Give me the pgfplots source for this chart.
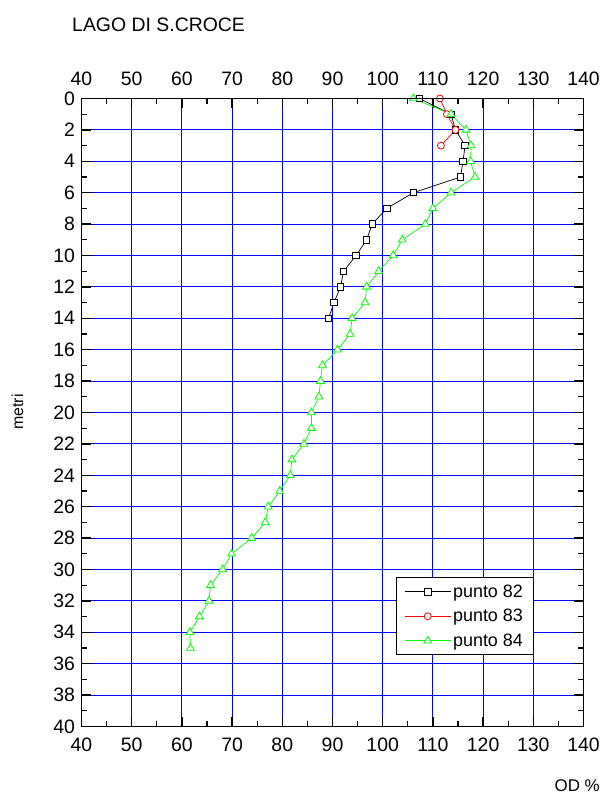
\documentclass[border=0pt]{standalone}
\usepackage{pgfplots}
\pgfplotsset{compat=1.18}
\usepackage{fontspec}
\setmainfont{Liberation Sans}
\begin{document}
\begin{tikzpicture}[x=1bp,y=1bp]
\path[use as bounding box] (-81.5,-69.5) rectangle (529.5,726.5);
\pgfplotsset{
  mycommon/.style={
    at={(0,0)}, anchor=south west,
    width=502bp, height=628bp, scale only axis,
    xmin=40, xmax=140, ymin=0, ymax=40, y dir=reverse,
    xtick={40,50,...,140}, ytick={0,2,...,40},
    /pgf/number format/assume math mode=true,
    tick label style={font=\fontsize{19.5}{19.5}\selectfont},
  }
}
\begin{axis}[mycommon,
  axis line style={black, line width=1.6bp},
  tick style={black, line width=1.3bp},
  tick align=inside,
  major tick length=10bp, minor tick length=5.5bp,
  minor x tick num=1, minor y tick num=1,
  grid=major, major grid style={blue, line width=0.9bp},
  xticklabel shift=7.5bp,
  yticklabel shift=3bp,
  legend cell align=left,
  legend style={at={(0.9,0.2376)}, anchor=north east, draw=black, fill=white, line width=0.8bp,
    font=\fontsize{18}{18}\selectfont, row sep=6.5bp, inner xsep=8bp, inner ysep=5bp,
    nodes={inner sep=2bp}},
  legend image code/.code={\draw[mark repeat=2,mark phase=2,#1] plot coordinates {(0bp,0bp) (23bp,0bp) (46bp,0bp)};},
]
\addplot[black, line width=0.7bp, mark=square*, mark size=3.2bp, mark options={fill=white, line width=0.8bp}] coordinates {
(107.3,0) (113.6,1) (114.5,2) (116.4,3) (116.0,4) (115.5,5) (106.1,6) (100.8,7) (97.9,8) (96.8,9) (94.7,10) (92.2,11) (91.6,12) (90.3,13) (89.2,14)
};
\addlegendentry{punto 82}
\addplot[red, line width=0.7bp, mark=*, mark size=3.5bp, mark options={fill=white, line width=0.8bp}] coordinates {
(111.4,0) (112.8,1) (114.5,2) (111.6,3)
};
\addlegendentry{punto 83}
\addplot[green, line width=0.7bp, mark=triangle*, mark size=4.5bp, mark options={fill=white, line width=0.8bp}] coordinates {
(106.1,0) (113.6,1) (116.6,2) (117.6,3) (117.5,4) (118.4,5) (113.6,6) (110.0,7) (108.5,8) (103.9,9) (102.1,10) (99.2,11) (96.8,12) (96.5,13) (93.9,14) (93.5,15) (91.0,16) (88.0,17) (87.6,18) (87.3,19) (85.8,20) (85.8,21) (84.3,22) (81.9,23) (81.6,24) (79.5,25) (77.2,26) (76.6,27) (73.9,28) (69.9,29) (68.1,30) (65.7,31) (65.4,32) (63.5,33) (61.6,34) (61.7,35)
};
\addlegendentry{punto 84}
\end{axis}
\begin{axis}[mycommon,
  axis x line*=top, axis y line=none,
  xticklabel pos=upper, major tick length=0pt,
  xticklabel shift=9.5bp,
]
\addplot[draw=none] coordinates {(40,0)};
\end{axis}
\node[anchor=west, inner sep=0pt, font=\fontsize{19.5}{19.5}\selectfont] at (-9.5,701.5) {LAGO DI S.CROCE};
\node[anchor=east, inner sep=0pt, font=\fontsize{17}{17}\selectfont] at (518.5,-59.5) {OD \%};
\node[rotate=90, font=\fontsize{16}{16}\selectfont] at (-64,314.5) {metri};
\end{tikzpicture}
\end{document}
